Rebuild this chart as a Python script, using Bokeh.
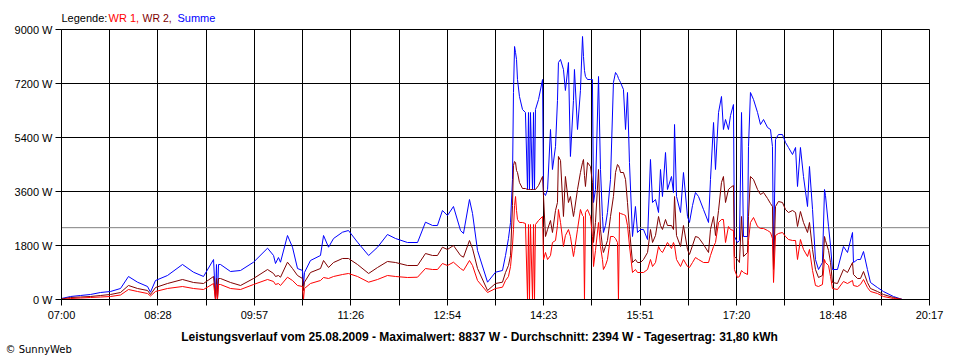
from bokeh.plotting import figure
from bokeh.models import Range1d, FixedTicker, Span, Label, CustomJSTickFormatter
from bokeh.embed import file_html
from bokeh.resources import INLINE

# minutes after 07:00
T_MIN = [
    0, 8.3, 17.4, 26.6, 35.8, 45.0, 54.2, 61.5, 69.8, 79.0,
    81.7, 86.3, 97.3, 111.1, 121.2, 130.4, 139.6, 141.4, 142.3, 143.2,
    144.2, 146.0, 155.2, 164.4, 176.3, 189.2, 194.7, 196.5, 199.2, 201.1,
    207.5, 212.1, 216.7, 221.3, 222.2, 223.1, 228.6, 237.8, 240.6, 245.2,
    249.8, 258.0, 263.5, 271.8, 282.0, 290.2, 299.3, 306.7, 317.7, 326.9,
    334.2, 340.7, 345.2, 349.8, 354.4, 359.9, 366.4, 369.1, 374.6, 377.4,
    382.0, 391.2, 398.5, 404.9, 407.7, 410.4, 412.3, 414.1, 415.0, 416.0,
    416.9, 417.8, 418.7, 420.5, 423.3, 426.0, 427.9, 428.8, 429.7, 430.6,
    432.5, 433.4, 434.3, 435.2, 438.0, 441.7, 442.6, 444.4, 446.3, 449.0,
    450.8, 453.6, 455.4, 456.3, 458.2, 460.9, 462.7, 465.5, 467.3, 470.1,
    471.0, 473.8, 476.5, 478.4, 479.3, 480.2, 481.1, 483.0, 485.7, 487.5,
    488.5, 490.3, 493.1, 494.9, 496.7, 497.6, 499.5, 501.3, 504.1, 506.8,
    508.7, 510.5, 511.4, 512.4, 513.3, 516.0, 517.9, 519.7, 521.5, 524.3,
    527.0, 528.9, 531.6, 534.4, 538.1, 540.8, 542.7, 545.4, 548.2, 550.0,
    551.8, 554.6, 556.4, 560.1, 561.9, 562.9, 564.7, 568.4, 571.1, 574.8,
    576.6, 579.4, 582.1, 584.9, 589.5, 594.1, 595.9, 598.7, 600.5, 603.3,
    606.0, 607.8, 609.7, 612.4, 614.3, 617.0, 617.9, 620.7, 622.5, 624.4,
    626.2, 629.9, 630.8, 632.6, 635.4, 639.1, 641.8, 644.6, 648.3, 651.0,
    652.8, 653.8, 655.6, 658.3, 662.0, 664.8, 667.5, 671.2, 674.0, 675.8,
    678.5, 681.3, 685.0, 686.8, 689.6, 692.3, 695.1, 698.7, 700.6, 701.5,
    704.3, 706.1, 707.9, 712.5, 718.0, 721.7, 726.3, 727.2, 730.9, 733.6,
    736.4, 740.0, 742.8, 749.2, 754.7, 763.9, 772.2,
]

SUMME = [
    33, 100, 133, 167, 233, 267, 367, 767, 577, 433,
    243, 633, 800, 1167, 910, 767, 1333, 0, 1167, 0,
    1167, 1167, 933, 967, 1243, 1710, 1467, 1200, 1400, 1243,
    2133, 1743, 1033, 967, 467, 900, 1300, 1467, 2133, 1743,
    2033, 2243, 2300, 1910, 1467, 1743, 2167, 2033, 1900, 1900,
    2577, 2467, 2467, 2967, 2800, 3100, 2300, 2200, 3333, 2867,
    1633, 577, 910, 967, 1467, 2033, 2567, 4000, 6900, 8433,
    8233, 8000, 7333, 6767, 6333, 6233, 3667, 6233, 3667, 6233,
    3667, 6233, 3667, 6333, 6667, 7333, 3567, 3467, 3667, 5667,
    4333, 5100, 6633, 7900, 8000, 7667, 6967, 7900, 4767, 6633,
    7667, 5667, 6967, 8767, 8100, 7633, 7433, 7333, 7333, 7333,
    3233, 3667, 7433, 4333, 2767, 2233, 2467, 2900, 4000, 7233,
    7567, 7467, 7367, 7300, 7233, 7000, 5667, 6900, 4567, 2100,
    3100, 2233, 2333, 2333, 2000, 4667, 3233, 3333, 2900, 4333,
    3433, 4900, 3667, 4100, 3567, 5833, 3433, 2900, 4233, 2767,
    2567, 3133, 3567, 3433, 3000, 2567, 4000, 5900, 4333, 6233,
    6767, 5667, 6000, 5667, 6133, 6500, 2100, 1900, 1967, 6233,
    2100, 2100, 5100, 6900, 6667, 6233, 5833, 6000, 5733, 5667,
    5100, 1333, 5333, 5500, 5500, 5233, 5067, 4833, 5067, 3767,
    5067, 4100, 3100, 4433, 3000, 1333, 1000, 1233, 3667, 3467,
    2433, 1800, 1000, 1000, 1767, 1567, 2233, 1233, 1333, 1333,
    1600, 1000, 567, 400, 267, 100, 0,
]

WR2 = [
    17, 67, 83, 100, 133, 167, 233, 467, 367, 300,
    167, 400, 533, 667, 567, 533, 767, 0, 700, 0,
    700, 700, 567, 467, 700, 1000, 867, 767, 800, 743,
    1243, 1033, 800, 700, 300, 577, 900, 1033, 1300, 1067,
    1233, 1367, 1367, 1167, 867, 1067, 1267, 1233, 1133, 1133,
    1533, 1467, 1467, 1743, 1667, 1800, 1467, 1410, 1967, 1700,
    1033, 300, 533, 577, 900, 1133, 1467, 3133, 4467, 4600,
    4567, 4300, 4233, 3900, 3700, 3700, 3667, 3667, 3667, 3667,
    3667, 3667, 3667, 3667, 3800, 4100, 3433, 2100, 2333, 2633,
    2233, 2967, 3233, 4767, 4633, 2767, 4100, 3233, 3433, 2767,
    2967, 3667, 4233, 4567, 4667, 4133, 3767, 4567, 4433, 3900,
    1900, 2567, 4333, 2333, 1767, 1567, 1767, 1967, 2767, 3433,
    4233, 4500, 4467, 4367, 4233, 4233, 4000, 3233, 2333, 1233,
    1333, 1233, 1233, 1333, 1567, 2333, 1900, 2133, 2767, 2467,
    2333, 2667, 2467, 2467, 2333, 3433, 2133, 1767, 2467, 1667,
    1500, 1800, 2100, 2067, 1833, 1567, 2333, 2767, 2133, 2967,
    3900, 4100, 3233, 3667, 3733, 3800, 1433, 1333, 1233, 2767,
    1433, 1567, 2767, 4100, 4000, 3667, 3500, 3567, 3367, 3200,
    3100, 1000, 3100, 3267, 3233, 3000, 2900, 2967, 2900, 2433,
    2933, 2567, 2233, 2567, 1667, 1000, 733, 800, 2100, 1967,
    1633, 1233, 567, 533, 1000, 900, 1233, 833, 700, 700,
    933, 567, 367, 267, 167, 67, 0,
]

WR1 = [
    0, 33, 50, 67, 83, 100, 150, 333, 267, 200,
    117, 267, 367, 433, 367, 333, 533, 0, 500, 0,
    500, 500, 367, 333, 500, 667, 600, 500, 533, 467,
    743, 633, 467, 433, 0, 367, 533, 633, 733, 700,
    767, 833, 867, 767, 577, 667, 800, 767, 733, 743,
    1033, 1000, 1000, 1200, 1133, 1243, 1033, 967, 1300, 1133,
    633, 233, 367, 410, 633, 767, 1100, 1800, 2333, 3133,
    3433, 2967, 2667, 2567, 2567, 2533, 0, 2500, 0, 2500,
    0, 2500, 0, 2500, 2633, 2767, 1333, 1567, 1333, 1467,
    1900, 1967, 2467, 3000, 2567, 1767, 2133, 2333, 2100, 1433,
    1633, 2333, 3000, 2800, 2767, 0, 2900, 3000, 2767, 2100,
    1100, 1633, 2567, 1767, 1333, 1000, 1133, 1333, 2100, 2100,
    2033, 1900, 0, 2900, 2867, 2833, 2800, 2467, 1800, 900,
    1000, 900, 900, 900, 1000, 1333, 1100, 1233, 1767, 1633,
    1567, 1767, 1900, 1700, 1900, 1800, 1333, 1100, 1333, 1100,
    1067, 1233, 1400, 1333, 1233, 1233, 1467, 1767, 1900, 2567,
    2667, 2667, 1900, 2433, 2333, 2300, 1000, 733, 767, 967,
    900, 833, 1967, 2567, 2733, 2433, 2367, 2367, 2300, 2233,
    2033, 567, 2133, 2200, 2233, 2100, 2000, 1967, 1967, 1333,
    2000, 1667, 1433, 1667, 967, 467, 433, 500, 1333, 1233,
    1133, 767, 367, 333, 600, 533, 633, 467, 433, 500,
    667, 400, 267, 200, 100, 33, 0,
]

assert len(T_MIN) == len(SUMME) == len(WR2) == len(WR1)

X_SPAN_MIN = 797  # 07:00 .. 20:17
X_TICK_LABELS = ["07:00", "", "08:28", "", "09:57", "", "11:26", "", "12:54", "",
                 "14:23", "", "15:51", "", "17:20", "", "18:48", "", "20:17"]
Y_TICKS = [0, 1800, 3600, 5400, 7200, 9000]
Y_MAX = 9000
AVERAGE_W = 2394
TITLE = ("Leistungsverlauf vom 25.08.2009 - Maximalwert: 8837 W - "
         "Durchschnitt: 2394 W - Tagesertrag: 31,80 kWh")

FONT = "Liberation Sans"
W, H = 960, 360

p = figure(width=W, height=H, output_backend="svg", toolbar_location=None,
           title=None,
           x_range=Range1d(0, X_SPAN_MIN), y_range=Range1d(0, Y_MAX),
           min_border_left=61, min_border_right=31, min_border_top=29,
           min_border_bottom=61)
p.background_fill_color = "white"
p.border_fill_color = "white"
p.outline_line_color = "black"

n = len(X_TICK_LABELS) - 1
xticks = [i * X_SPAN_MIN / n for i in range(n + 1)]

p.xaxis.ticker = FixedTicker(ticks=xticks)
p.xaxis.formatter = CustomJSTickFormatter(args=dict(labels=X_TICK_LABELS),
                                          code="return labels[index]")
p.yaxis.ticker = FixedTicker(ticks=Y_TICKS)
p.yaxis.formatter = CustomJSTickFormatter(code="return tick.toFixed(0) + ' W'")

for ax in (p.xaxis[0], p.yaxis[0]):
    ax.axis_line_color = "black"
    ax.major_tick_line_color = "black"
    ax.major_tick_in = 0
    ax.major_tick_out = 6
    ax.minor_tick_line_color = None
    ax.major_label_text_font = FONT
    ax.major_label_text_font_size = "11px"
    ax.major_label_text_color = "black"
p.xaxis.major_label_standoff = 3
p.yaxis.major_label_standoff = 3

p.xgrid.ticker = FixedTicker(ticks=xticks)
p.ygrid.ticker = FixedTicker(ticks=Y_TICKS)
for g in (p.xgrid[0], p.ygrid[0]):
    g.grid_line_color = "black"
    g.grid_line_alpha = 1.0
    g.grid_line_width = 1

avg = Span(location=AVERAGE_W, dimension="width", line_color="#808080",
           line_width=1, level="underlay")
p.add_layout(avg)

p.line(T_MIN, SUMME, line_color="#0000FF", line_width=1)
p.line(T_MIN, WR2, line_color="#800000", line_width=1)
p.line(T_MIN, WR1, line_color="#FF0000", line_width=1)


def lab(side, x, y, text, color="black", align="left", bold=False,
        size="11px", font=FONT):
    # canvas units: pixel position on the whole figure (top-left origin);
    # the side panel only hosts the label so that it is not clipped.
    p.add_layout(Label(x=x, y=y, x_units="canvas", y_units="canvas", text=text,
                       text_font=font, text_font_size=size, text_color=color,
                       text_align=align, text_baseline="middle",
                       text_font_style="bold" if bold else "normal"), side)


# legend pieces, spread over side panels so no panel grows past its border
lab("above", 61, 17, "Legende:")
lab("above", 177, 17, "Summe", "#0000FF")
lab("right", 108, 17, "WR 1,", "#FF0000")
lab("below", 142, 17, "WR 2,", "#800000", size="10.5px")
lab("below", 479, 336, TITLE, bold=True, align="center", size="12px")
lab("below", 5, 349, "\u00a9 SunnyWeb", size="10px", font="DejaVu Sans")

open("out.html", "w").write(file_html(p, INLINE))
